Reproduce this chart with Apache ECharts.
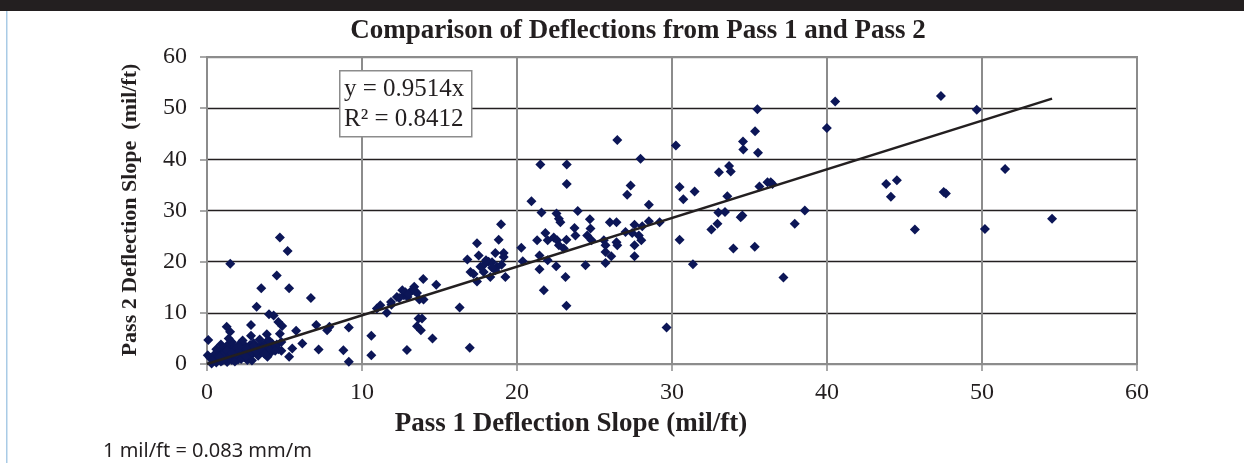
<!DOCTYPE html>
<html>
<head>
<meta charset="utf-8">
<title>Comparison of Deflections from Pass 1 and Pass 2</title>
<script src="https://cdn.jsdelivr.net/npm/echarts@6/dist/echarts.min.js"></script>
<style>
  html, body { margin: 0; padding: 0; background: #fff; }
  #chart { width: 1244px; height: 463px; }
</style>
</head>
<body>
<div id="chart"></div>
<script>
  // pass 1 / pass 2 deflection slopes (mil/ft)
  var pass1 = [
    // near origin
    1.5, 4.7, 5.2, 4.5, 3.5, 5.3, 6.7, 3.2, 4.0, 4.3, 4.6, 4.85, 2.84, 1.27, 1.49, 2.84, 3.86, 4.7, 5.75, 7.05,
    7.75, 7.9, 9.15, 6.15, 5.5, 7.2, 8.8, 9.15, 5.3, 4.07, 4.8, 0.08, 0.05, 2.78,
    0.2, 0.4, 0.5, 0.6, 0.7, 0.8, 0.9, 1.0, 1.0, 1.1, 1.2, 1.3, 1.3, 1.4, 1.5, 1.6, 1.6, 1.7, 1.8, 1.9,
    2.0, 2.0, 2.1, 2.2, 2.3, 2.4, 2.5, 2.5, 2.6, 2.7, 2.8, 2.9, 3.0, 3.0, 3.1, 3.2, 3.3, 3.4, 3.5, 3.6,
    3.7, 3.8, 3.9, 4.0, 4.1, 4.2, 4.3, 4.5, 4.6, 4.8, 0.3, 0.9, 1.2, 1.8, 2.3, 2.9, 3.4, 3.9, 0.6, 1.4,
    0.4, 0.7, 1.1, 1.5, 1.7, 2.1, 2.4, 2.6, 2.8, 3.1, 3.3, 3.6, 3.8, 4.1, 4.4, 1.9, 2.2, 2.7, 3.2, 3.5,
    1.0, 1.3, 0.8, 2.0, 4.0, 4.4, 3.0, 1.6, 2.5, 3.7,
    // 10 - 20
    10.6, 10.6, 10.96, 11.18, 11.6, 11.87, 12.25, 12.6, 12.7, 12.94, 13.22, 13.37, 13.55, 13.95, 13.7, 13.97,
    14.79, 13.87, 13.65, 13.55, 13.8, 14.55, 12.9, 16.3, 16.95, 16.8, 17.42, 17.53, 17.0, 17.42, 17.85, 18.17,
    18.28, 18.6, 18.82, 18.97, 19.14, 19.25, 18.71, 17.64, 18.6, 19.14, 18.39,
    12.8, 13.0, 13.4, 12.4, 11.9, 17.9, 18.0, 18.4, 19.0, 17.2,
    // 20 - 40
    20.28, 20.37, 20.93, 21.51, 21.58, 21.3, 21.45, 21.45, 21.73, 21.83, 21.98, 21.98, 22.37, 22.55, 22.7, 22.8,
    22.59, 22.7, 23.02, 22.53, 23.13, 23.19, 23.21, 23.21, 23.19, 23.71, 23.77, 23.92, 24.42, 24.53, 24.7, 24.74,
    24.81, 25.6, 25.71, 25.71, 25.71, 25.99, 26.08, 26.42, 26.42, 26.47, 26.47, 27.0, 27.11, 27.33, 27.43, 27.58,
    27.58, 27.58, 27.86, 27.97, 28.02, 28.08, 28.51, 28.51, 29.2, 29.65, 30.25, 30.49, 30.73, 30.49, 31.35, 31.46,
    32.54, 32.93, 33.03, 32.99, 33.42, 33.57, 33.68, 33.79, 33.96, 34.43, 34.54, 34.58, 34.6, 35.34, 35.36, 35.51,
    35.55, 35.64, 36.16, 36.37, 36.48, 37.19, 37.92, 38.57,
    // 40 +
    39.99, 40.53, 43.82, 44.51, 44.12, 45.67, 47.35, 47.53, 47.67, 49.66, 50.19, 51.49, 54.52
  ];
  var pass2 = [
    19.6, 24.7, 22.1, 17.3, 14.8, 14.8, 12.9, 11.2, 9.7, 9.5, 8.2, 7.45, 7.6, 7.3, 6.3, 5.5, 5.8, 5.9, 6.5, 7.6,
    6.6, 7.3, 7.15, 4.0, 3.05, 2.85, 2.7, 0.45, 1.4, 2.4, 2.6, 4.7, 1.7, 3.7,
    1.2, 0.6, 1.9, 0.3, 1.1, 2.4, 0.5, 1.6, 3.1, 0.9, 2.2, 0.4, 3.6, 1.4, 2.8, 0.8, 4.3, 1.9, 3.2, 1.2,
    2.5, 0.9, 3.9, 1.7, 2.9, 1.3, 3.4, 2.2, 0.8, 2.7, 3.6, 1.9, 2.9, 4.1, 2.3, 3.3, 1.6, 2.8, 3.7, 2.4,
    3.1, 4.2, 2.9, 3.5, 2.2, 4.0, 3.2, 3.8, 2.9, 4.3, 0.1, 3.8, 1.1, 0.5, 4.6, 0.7, 4.8, 1.4, 2.9, 5.0,
    0.9, 1.5, 2.0, 1.8, 2.6, 2.1, 1.9, 3.0, 2.2, 2.6, 3.0, 3.1, 3.4, 3.0, 3.5, 2.0, 1.0, 1.8, 2.5, 2.9,
    0.7, 2.6, 1.4, 3.3, 4.6, 2.6, 3.5, 2.1, 1.5, 2.0,
    5.5, 1.7, 10.85, 11.5, 10.0, 12.1, 13.1, 14.4, 13.45, 13.1, 14.4, 15.1, 13.9, 16.6, 12.6, 12.6,
    15.5, 8.9, 8.9, 7.4, 6.6, 5.0, 2.73, 11.05, 3.2, 20.4, 23.6, 21.2, 18.0, 16.1, 18.0, 20.0,
    17.0, 21.7, 24.3, 27.3, 21.7, 17.0, 19.0, 19.0, 18.3, 20.9, 19.9,
    14.0, 13.7, 14.3, 12.9, 11.6, 19.5, 20.3, 18.8, 19.4, 17.6,
    22.7, 20.1, 31.8, 39.0, 29.6, 24.2, 21.2, 18.5, 14.4, 25.6, 24.2, 20.3, 24.7, 29.4, 28.4, 27.7,
    24.2, 23.2, 22.55, 19.1, 17.0, 11.4, 39.0, 35.2, 24.3, 26.6, 25.1, 29.9, 19.3, 25.1, 28.3, 26.5,
    24.2, 24.2, 23.2, 21.9, 19.75, 27.7, 21.05, 27.7, 23.8, 43.8, 23.2, 25.8, 33.1, 34.9, 25.6, 27.2,
    23.2, 21.05, 25.1, 40.1, 24.2, 26.9, 31.1, 27.9, 27.7, 7.15, 42.7, 34.6, 32.2, 24.3, 19.5, 33.7,
    26.3, 27.4, 37.5, 29.6, 29.7, 32.8, 38.7, 37.6, 22.55, 28.7, 29.0, 43.5, 41.9, 22.9, 45.5, 49.8,
    41.3, 34.7, 35.5, 35.5, 35.2, 16.9, 27.4, 30.0,
    46.1, 51.3, 35.2, 35.9, 32.7, 26.3, 52.4, 33.6, 33.3, 49.7, 26.4, 38.1, 28.4
  ];
  var xTicks = [0, 10, 20, 30, 40, 50, 60];
  var yTicks = [0, 10, 20, 30, 40, 50, 60];
  // linear trend through origin (Excel), drawn to the largest Pass 1 value
  var trendSlope = 0.9514;
  var trendR2 = 0.8412;
  var trendEnd = 54.52;

  var points = [];
  for (var i = 0; i < pass1.length; i++) {
    points.push([pass1[i], pass2[i]]);
  }
  var trend = [[0, 0], [trendEnd, trendSlope * trendEnd]];

  var serif = '"Liberation Serif", "DejaVu Serif", serif';
  var chart = echarts.init(document.getElementById('chart'));

  chart.setOption({
    animation: false,
    backgroundColor: '#fff',
    grid: {
      left: 207, right: 107, top: 57, bottom: 99,
      show: true, borderColor: '#8c8c8c', borderWidth: 2, backgroundColor: '#fff'
    },
    xAxis: {
      type: 'value', min: xTicks[0], max: xTicks[xTicks.length - 1], interval: 10,
      axisLine: { show: true, onZero: false, lineStyle: { color: '#8c8c8c', width: 2 } },
      axisTick: { show: true, length: 7, lineStyle: { color: '#8c8c8c', width: 1.5 } },
      axisLabel: { color: '#231f20', fontFamily: serif, fontSize: 24, margin: 17 },
      splitLine: { show: true, lineStyle: { color: '#8c8c8c', width: 2 } }
    },
    yAxis: {
      type: 'value', min: yTicks[0], max: yTicks[yTicks.length - 1], interval: 10,
      axisLine: { show: true, onZero: false, lineStyle: { color: '#8c8c8c', width: 2 } },
      axisTick: { show: true, length: 7, lineStyle: { color: '#8c8c8c', width: 1.5 } },
      axisLabel: { color: '#231f20', fontFamily: serif, fontSize: 24, margin: 20 },
      splitLine: {
        show: true,
        lineStyle: { color: ['#8c8c8c', '#231f20', '#231f20', '#231f20', '#231f20', '#231f20', '#8c8c8c'], width: 1.4 }
      }
    },
    series: [
      {
        name: 'Pass 1 vs Pass 2',
        type: 'scatter',
        data: points,
        symbol: 'diamond',
        symbolSize: 10,
        itemStyle: { color: '#0c1657', opacity: 1 },
        z: 2
      },
      {
        name: 'Linear trend',
        type: 'line',
        data: trend,
        symbol: 'none',
        lineStyle: { color: '#231f20', width: 2.5 },
        z: 3
      }
    ],
    graphic: [
      // cropped page header strip and left page rule
      { type: 'rect', left: 0, top: 0, shape: { width: 1244, height: 11 }, style: { fill: '#231f20' } },
      { type: 'rect', left: 6, top: 11, shape: { width: 1.5, height: 452 }, style: { fill: '#a9cbe6' } },
      {
        type: 'text', x: 638, y: 31,
        style: {
          text: 'Comparison of Deflections from Pass 1 and Pass 2',
          font: 'bold 27px ' + serif, fill: '#231f20', align: 'center', verticalAlign: 'middle'
        }
      },
      {
        type: 'text', x: 571, y: 424,
        style: {
          text: 'Pass 1 Deflection Slope (mil/ft)',
          font: 'bold 27px ' + serif, fill: '#231f20', align: 'center', verticalAlign: 'middle'
        }
      },
      {
        type: 'text', x: 130, y: 210, rotation: Math.PI / 2,
        style: {
          text: 'Pass 2 Deflection Slope  (mil/ft)',
          font: 'bold 22px ' + serif, fill: '#231f20', align: 'center', verticalAlign: 'middle'
        }
      },
      { type: 'rect', left: 339, top: 70, z: 100,
        shape: { width: 132, height: 66 },
        style: { fill: '#fff', stroke: '#8c8c8c', lineWidth: 1.5 } },
      { type: 'text', x: 344, y: 89, z: 101,
        style: { text: 'y = ' + trendSlope + 'x', font: '25px ' + serif, fill: '#231f20', verticalAlign: 'middle' } },
      { type: 'text', x: 344, y: 119, z: 101,
        style: { text: 'R\u00b2 = ' + trendR2, font: '25px ' + serif, fill: '#231f20', verticalAlign: 'middle' } },
      {
        type: 'text', x: 103, y: 451,
        style: { text: '1 mil/ft = 0.083 mm/m', font: '20px "Noto Sans", sans-serif', fill: '#231f20', verticalAlign: 'middle' }
      }
    ]
  });
</script>
</body>
</html>
